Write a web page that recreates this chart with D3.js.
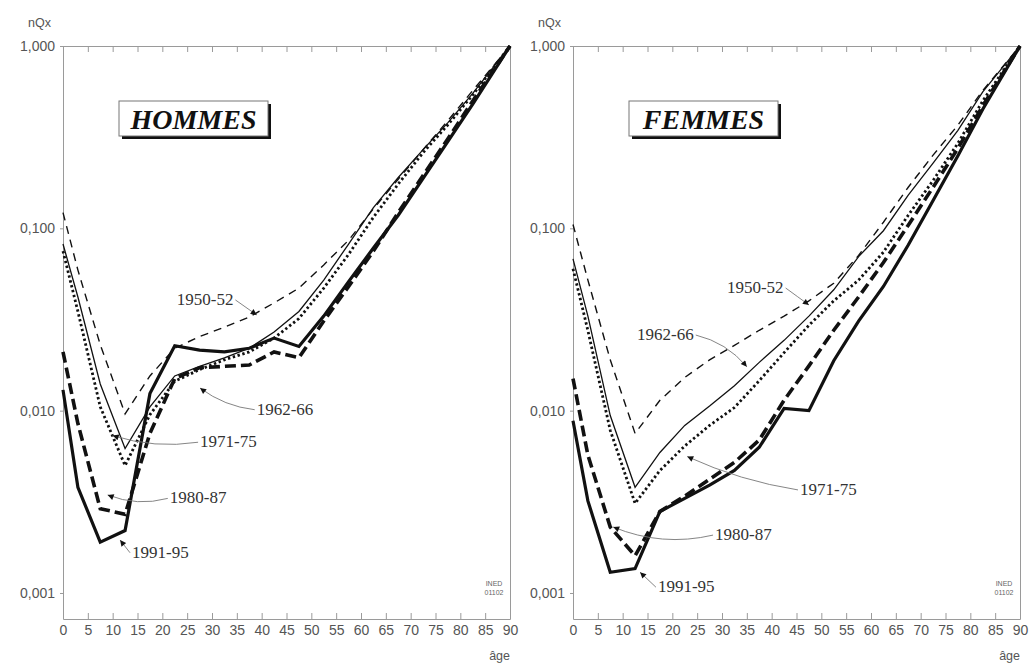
<!DOCTYPE html>
<html>
<head>
<meta charset="utf-8">
<script src="https://cdn.jsdelivr.net/npm/d3@7"></script>
<style>
body { margin: 0; background: #fff; }
svg text { font-family: "Liberation Sans", Arial, sans-serif; }
.axis path, .axis line { stroke: #9a9a9a; stroke-width: 1; }
.axis text { fill: #555; font-size: 14px; font-family: "Liberation Sans", Arial, sans-serif; }
.note { font-family: "Liberation Serif", "Times New Roman", serif; font-size: 17px; fill: #333; }
.title { font-family: "Liberation Serif", "Times New Roman", serif; font-size: 28px; font-weight: bold; font-style: italic; fill: #111; }
</style>
</head>
<body>
<svg id="chart" width="1030" height="665"></svg>
<script>
// ages at which the nQx are plotted (mid-interval, last point = 1 at 90)
var ages = [0, 3, 7.5, 12.5, 17.5, 22.5, 27.5, 32.5, 37.5, 42.5, 47.5, 52.5, 57.5, 62.5, 67.5, 72.5, 77.5, 82.5, 90];
var periods = ["1950-52", "1962-66", "1971-75", "1980-87", "1991-95"];
var ageTicks = d3.range(0, 91, 5);
var qTicks = [0.001, 0.01, 0.1, 1];

var hommes1950 = [0.122, 0.059, 0.023, 0.0096, 0.0155, 0.022, 0.0255, 0.0287, 0.0326, 0.039, 0.047, 0.063, 0.086, 0.128, 0.186, 0.27, 0.39, 0.57, 1];
var hommes1962 = [0.082, 0.042, 0.014, 0.0062, 0.0105, 0.0155, 0.0175, 0.0195, 0.022, 0.027, 0.035, 0.052, 0.082, 0.13, 0.19, 0.27, 0.38, 0.55, 1];
var hommes1971 = [0.075, 0.035, 0.0105, 0.005, 0.0095, 0.0145, 0.0168, 0.019, 0.021, 0.025, 0.032, 0.047, 0.072, 0.115, 0.175, 0.26, 0.37, 0.54, 1];
var hommes1980 = [0.021, 0.0085, 0.0029, 0.0027, 0.0075, 0.015, 0.0172, 0.0175, 0.0178, 0.021, 0.0195, 0.031, 0.048, 0.075, 0.122, 0.195, 0.31, 0.5, 1];
var hommes1991 = [0.013, 0.0038, 0.0019, 0.0022, 0.0124, 0.0227, 0.0215, 0.021, 0.022, 0.025, 0.0225, 0.033, 0.051, 0.078, 0.118, 0.188, 0.3, 0.48, 1];

var femmes1950 = [0.105, 0.052, 0.019, 0.0075, 0.0114, 0.0152, 0.019, 0.0228, 0.0276, 0.033, 0.04, 0.05, 0.071, 0.108, 0.168, 0.252, 0.368, 0.57, 1];
var femmes1962 = [0.068, 0.033, 0.0094, 0.0038, 0.0059, 0.0083, 0.0106, 0.0137, 0.0184, 0.0243, 0.033, 0.046, 0.07, 0.097, 0.152, 0.228, 0.345, 0.56, 1];
var femmes1971 = [0.06, 0.0275, 0.0078, 0.0031, 0.0047, 0.0064, 0.0083, 0.0104, 0.0146, 0.0208, 0.0294, 0.04, 0.052, 0.074, 0.118, 0.183, 0.293, 0.5, 1];
var femmes1980 = [0.015, 0.0057, 0.0023, 0.0016, 0.0028, 0.0034, 0.0042, 0.0052, 0.0069, 0.0114, 0.0176, 0.0276, 0.042, 0.065, 0.104, 0.168, 0.275, 0.47, 1];
var femmes1991 = [0.0088, 0.0032, 0.0013, 0.00136, 0.0028, 0.0033, 0.0039, 0.0047, 0.0063, 0.0103, 0.01, 0.0188, 0.031, 0.048, 0.081, 0.142, 0.25, 0.45, 1];

// label positions (age, nQx) of the text and of the arrow tip
var hommesNotes = [
    { label: "1950-52", tx: 22.9, tq: 0.038, ax: 39.0, aq: 0.0335, side: "end", bend: 0 },
    { label: "1962-66", tx: 39.0, tq: 0.0095, ax: 27.6, aq: 0.0133, side: "start", bend: -8 },
    { label: "1971-75", tx: 27.6, tq: 0.0063, ax: 10.0, aq: 0.0073, side: "start", bend: -10 },
    { label: "1980-87", tx: 21.5, tq: 0.0031, ax: 9.0, aq: 0.00345, side: "start", bend: -10 },
    { label: "1991-95", tx: 13.9, tq: 0.00156, ax: 11.5, aq: 0.00195, side: "start", bend: 0 }
];
var femmesNotes = [
    { label: "1950-52", tx: 31.0, tq: 0.0442, ax: 47.5, aq: 0.038, side: "end", bend: 0 },
    { label: "1962-66", tx: 12.9, tq: 0.0244, ax: 35.0, aq: 0.0174, side: "end", bend: -10 },
    { label: "1971-75", tx: 45.7, tq: 0.00345, ax: 23.0, aq: 0.0056, side: "start", bend: -8 },
    { label: "1980-87", tx: 28.6, tq: 0.00195, ax: 8.1, aq: 0.0023, side: "start", bend: -16 },
    { label: "1991-95", tx: 17.1, tq: 0.00101, ax: 13.5, aq: 0.0013, side: "start", bend: 0 }
];

var styles = [
    { w: 1.4, dash: "8,6" },
    { w: 1.3, dash: null },
    { w: 2.8, dash: "2.4,2.6" },
    { w: 3.6, dash: "11,5" },
    { w: 3.2, dash: null }
];

var svg = d3.select("#chart");
var top_y = 46, bottom_y = 619;

svg.append("defs").append("marker")
    .attr("id", "arr")
    .attr("viewBox", "0 0 10 10")
    .attr("refX", 10).attr("refY", 5)
    .attr("markerWidth", 11).attr("markerHeight", 6)
    .attr("markerUnits", "userSpaceOnUse")
    .attr("orient", "auto")
    .append("path").attr("d", "M0,0L10,5L0,10z").attr("fill", "#111");

function draw_panel(x0, x1, title, series, notes) {
    var x = d3.scaleLinear().domain([0, 90]).range([x0, x1]);
    var y = d3.scaleLog().domain([0.00072, 1]).range([bottom_y, top_y]);
    var g = svg.append("g");

    g.append("g").attr("class", "axis")
        .attr("transform", "translate(0," + bottom_y + ")")
        .call(d3.axisBottom(x).tickValues(ageTicks).tickSize(-6).tickSizeOuter(0).tickPadding(6).tickFormat(d3.format("d")));

    g.append("g").attr("class", "axis")
        .attr("transform", "translate(0," + top_y + ")")
        .call(d3.axisTop(x).tickValues(ageTicks).tickSize(-6).tickSizeOuter(0).tickFormat(""));

    g.append("g").attr("class", "axis")
        .attr("transform", "translate(" + x0 + ",0)")
        .call(d3.axisLeft(y).tickValues(qTicks).tickSize(3).tickSizeOuter(0).tickPadding(5)
            .tickFormat(function (d) { return d.toFixed(3).replace(".", ","); }));

    g.append("g").attr("class", "axis")
        .attr("transform", "translate(" + x1 + ",0)")
        .call(d3.axisRight(y).tickValues([]).tickSizeOuter(0));

    g.append("text").attr("x", x0 - 12).attr("y", 27).attr("text-anchor", "end")
        .attr("font-size", 12.5).attr("fill", "#555").text("nQx");
    g.append("text").attr("x", x1).attr("y", 660).attr("text-anchor", "end")
        .attr("font-size", 12.5).attr("fill", "#555").text("âge");
    g.append("text").attr("x", x1 - 16).attr("y", 586).attr("text-anchor", "middle")
        .attr("font-size", 7).attr("fill", "#666").text("INED");
    g.append("text").attr("x", x1 - 16).attr("y", 595).attr("text-anchor", "middle")
        .attr("font-size", 7).attr("fill", "#666").text("01102");

    // title box with drop shadow
    var bx = x0 + 56, by = 101, bw = 149, bh = 35;
    g.append("rect").attr("x", bx + 3).attr("y", by + 3).attr("width", bw).attr("height", bh).attr("fill", "#111");
    g.append("rect").attr("x", bx).attr("y", by).attr("width", bw).attr("height", bh)
        .attr("fill", "#fff").attr("stroke", "#777").attr("stroke-width", 1);
    g.append("text").attr("class", "title").attr("x", bx + bw / 2).attr("y", by + bh / 2 + 10)
        .attr("text-anchor", "middle").text(title);

    var line = d3.line()
        .x(function (d, i) { return x(ages[i]); })
        .y(function (d) { return y(d); });

    series.forEach(function (s, i) {
        g.append("path")
            .datum(s)
            .attr("d", line)
            .attr("fill", "none")
            .attr("stroke", "#111")
            .attr("stroke-width", styles[i].w)
            .attr("stroke-dasharray", styles[i].dash)
            .attr("stroke-linejoin", "miter");
    });

    notes.forEach(function (n) {
        var t = g.append("text").attr("class", "note")
            .attr("x", x(n.tx)).attr("y", y(n.tq)).text(n.label);
        var len = t.node().getComputedTextLength();
        var sx = n.side === "end" ? x(n.tx) + len + 2 : x(n.tx) - 2;
        var sy = y(n.tq) - 5;
        var ex = x(n.ax), ey = y(n.aq);
        var mx = (sx + ex) / 2, my = (sy + ey) / 2;
        var dx = ex - sx, dy = ey - sy, d = Math.sqrt(dx * dx + dy * dy);
        var cx = mx - dy / d * n.bend, cy = my + dx / d * n.bend;
        g.append("path")
            .attr("d", "M" + sx + "," + sy + "Q" + cx + "," + cy + " " + ex + "," + ey)
            .attr("fill", "none").attr("stroke", "#777").attr("stroke-width", 0.9)
            .attr("marker-end", "url(#arr)");
    });
}

draw_panel(63, 510, "HOMMES", [hommes1950, hommes1962, hommes1971, hommes1980, hommes1991], hommesNotes);
draw_panel(573, 1020, "FEMMES", [femmes1950, femmes1962, femmes1971, femmes1980, femmes1991], femmesNotes);
</script>
</body>
</html>
